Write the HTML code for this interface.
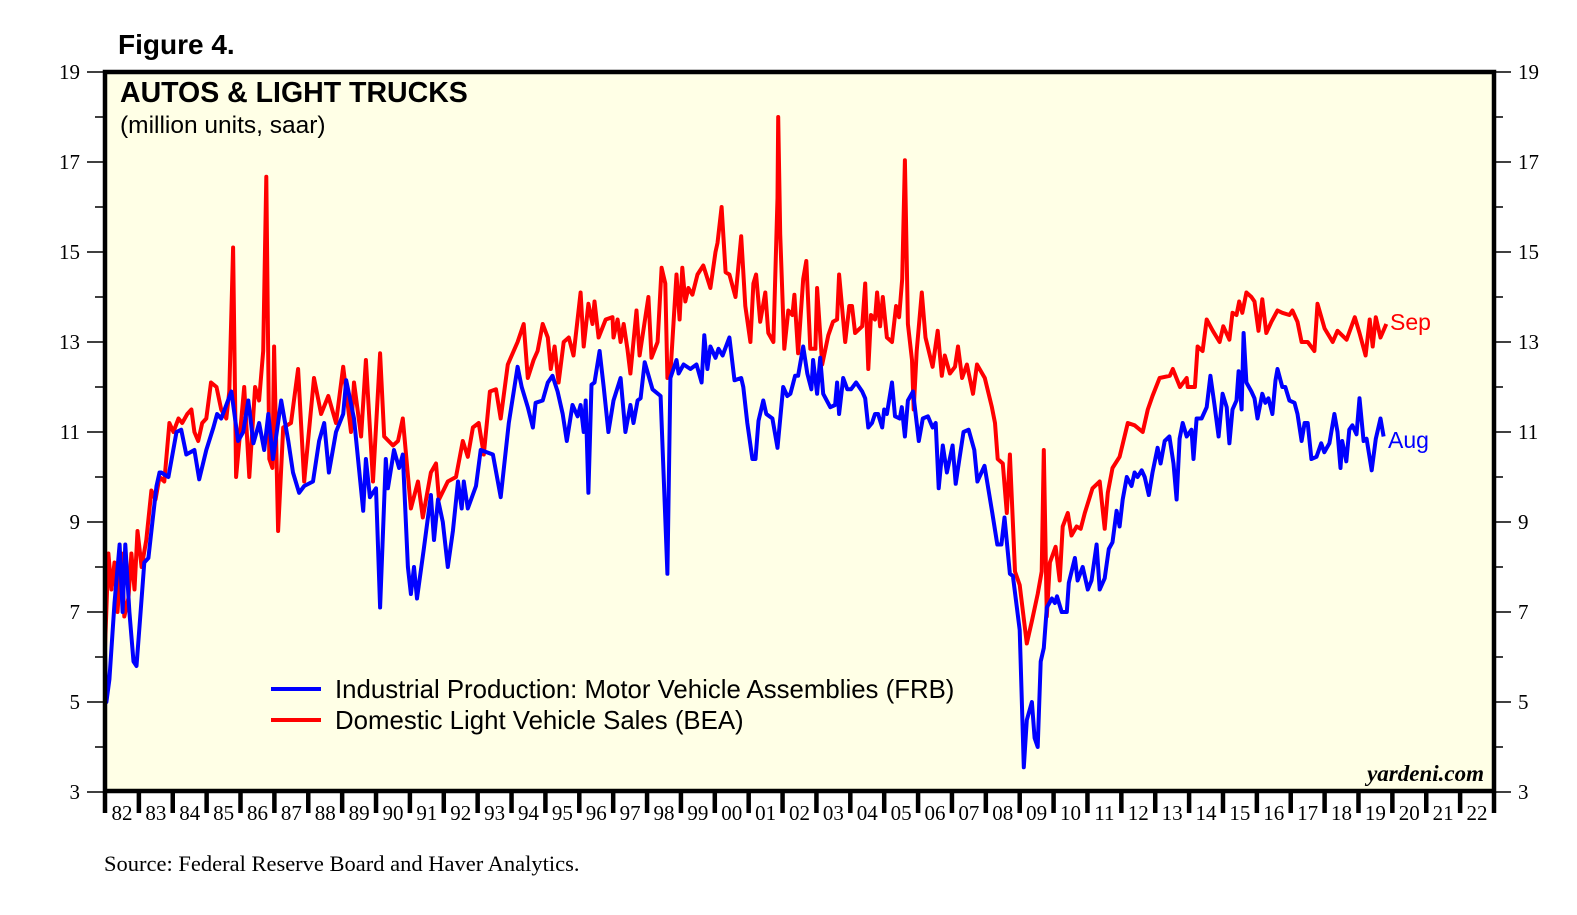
<!DOCTYPE html>
<html><head><meta charset="utf-8"><style>
html,body{margin:0;padding:0;background:#fff;}
svg{display:block;}
</style></head><body>
<svg id="chart" width="1577" height="915" viewBox="0 0 1577 915" xmlns="http://www.w3.org/2000/svg">
<text x="118" y="54" font-family="Liberation Sans, sans-serif" font-size="28" font-weight="bold">Figure 4.</text>
<rect x="105" y="72" width="1389" height="719" fill="#ffffe6"/>
<g id="grid"></g>
<g id="series"></g>
<rect x="105" y="72" width="1389" height="719" fill="none" stroke="#000" stroke-width="4.5"/>
<text x="120" y="102" font-family="Liberation Sans, sans-serif" font-size="28.5" font-weight="bold">AUTOS &amp; LIGHT TRUCKS</text>
<text x="120" y="133" font-family="Liberation Sans, sans-serif" font-size="24.5">(million units, saar)</text>
<g>
<line x1="271" y1="689" x2="321" y2="689" stroke="#0000ff" stroke-width="4"/>
<text x="335" y="698" font-family="Liberation Sans, sans-serif" font-size="25.8">Industrial Production: Motor Vehicle Assemblies (FRB)</text>
<line x1="271" y1="720" x2="321" y2="720" stroke="#ff0000" stroke-width="4"/>
<text x="335" y="729" font-family="Liberation Sans, sans-serif" font-size="25.8">Domestic Light Vehicle Sales (BEA)</text>
</g>
<text x="1390" y="330" font-family="Liberation Sans, sans-serif" font-size="23" fill="#ff0000">Sep</text>
<text x="1388" y="448" font-family="Liberation Sans, sans-serif" font-size="23" fill="#0000ff">Aug</text>
<text x="1484" y="781" text-anchor="end" font-family="Liberation Serif, serif" font-size="23" font-weight="bold" font-style="italic">yardeni.com</text>
<text x="104" y="871" font-family="Liberation Serif, serif" font-size="22.5">Source: Federal Reserve Board and Haver Analytics.</text>
</svg>
<script>
const yTicks = [3,5,7,9,11,13,15,17,19];
const yearLabels = ["82","83","84","85","86","87","88","89","90","91","92","93","94","95","96","97","98","99","00","01","02","03","04","05","06","07","08","09","10","11","12","13","14","15","16","17","18","19","20","21","22"];
const salesDates = [1982.00,1982.10,1982.19,1982.28,1982.37,1982.49,1982.57,1982.69,1982.78,1982.87,1982.96,1983.08,1983.22,1983.37,1983.49,1983.61,1983.75,1983.90,1984.02,1984.17,1984.28,1984.43,1984.55,1984.64,1984.75,1984.87,1984.99,1985.13,1985.29,1985.43,1985.58,1985.67,1985.78,1985.87,1986.11,1986.26,1986.43,1986.55,1986.67,1986.76,1986.85,1986.94,1986.99,1987.11,1987.26,1987.49,1987.70,1987.88,1988.17,1988.38,1988.59,1988.82,1989.03,1989.26,1989.35,1989.56,1989.70,1989.91,1990.12,1990.24,1990.50,1990.65,1990.79,1991.03,1991.24,1991.38,1991.62,1991.77,1991.86,1992.12,1992.36,1992.56,1992.71,1992.86,1993.03,1993.18,1993.36,1993.54,1993.68,1993.89,1994.18,1994.36,1994.48,1994.65,1994.77,1994.92,1995.07,1995.16,1995.27,1995.39,1995.54,1995.69,1995.83,1996.04,1996.13,1996.27,1996.39,1996.45,1996.57,1996.78,1996.98,1997.01,1997.13,1997.22,1997.31,1997.42,1997.51,1997.69,1997.78,1998.04,1998.13,1998.31,1998.43,1998.54,1998.60,1998.69,1998.87,1998.96,1999.04,1999.13,1999.22,1999.34,1999.49,1999.66,1999.87,2000.02,2000.08,2000.20,2000.32,2000.43,2000.61,2000.78,2000.90,2001.05,2001.14,2001.22,2001.34,2001.49,2001.58,2001.73,2001.85,2001.87,2001.93,2002.05,2002.17,2002.29,2002.35,2002.46,2002.61,2002.70,2002.82,2002.97,2003.02,2003.17,2003.35,2003.49,2003.61,2003.67,2003.85,2003.97,2004.05,2004.14,2004.35,2004.44,2004.53,2004.61,2004.73,2004.79,2004.88,2004.96,2005.08,2005.23,2005.35,2005.44,2005.53,2005.61,2005.70,2005.82,2005.87,2005.96,2006.11,2006.22,2006.43,2006.58,2006.70,2006.79,2006.94,2007.09,2007.18,2007.30,2007.44,2007.62,2007.74,2007.97,2008.18,2008.27,2008.35,2008.50,2008.62,2008.71,2008.86,2009.00,2009.21,2009.36,2009.53,2009.65,2009.71,2009.80,2009.89,2010.06,2010.18,2010.27,2010.42,2010.53,2010.68,2010.80,2010.92,2011.15,2011.36,2011.51,2011.60,2011.74,2011.95,2012.19,2012.39,2012.63,2012.78,2012.92,2013.13,2013.43,2013.52,2013.73,2013.93,2013.96,2014.17,2014.25,2014.40,2014.52,2014.70,2014.90,2015.01,2015.19,2015.28,2015.40,2015.48,2015.57,2015.69,2015.84,2015.93,2016.05,2016.16,2016.28,2016.43,2016.61,2016.75,2016.96,2017.05,2017.20,2017.32,2017.50,2017.70,2017.79,2018.00,2018.24,2018.38,2018.65,2018.89,2019.03,2019.21,2019.33,2019.42,2019.51,2019.65,2019.82];
const salesValues = [6.2,8.3,7.5,8.1,7.0,8.3,6.9,7.3,8.3,7.5,8.8,8.0,8.6,9.7,9.5,10.0,9.9,11.2,11.0,11.3,11.2,11.4,11.5,11.0,10.8,11.2,11.3,12.1,12.0,11.5,11.3,11.9,15.1,10.0,12.0,10.0,12.0,11.7,12.8,16.67,10.4,10.2,12.9,8.8,11.1,11.2,12.4,9.9,12.2,11.4,11.8,11.2,12.45,11.0,12.1,10.9,12.6,9.9,12.75,10.9,10.7,10.8,11.3,9.3,9.9,9.1,10.1,10.3,9.5,9.9,10.0,10.8,10.45,11.1,11.2,10.5,11.9,11.95,11.3,12.5,13.0,13.4,12.2,12.6,12.8,13.4,13.1,12.4,12.9,12.1,13.0,13.1,12.7,14.1,12.9,13.85,13.4,13.9,13.1,13.5,13.55,13.1,13.5,13.0,13.4,12.85,12.3,13.7,12.7,14.0,12.65,13.0,14.65,14.3,12.2,12.3,14.5,13.5,14.65,13.9,14.2,14.05,14.5,14.7,14.2,15.0,15.2,16.0,14.55,14.5,14.0,15.35,13.8,13.0,14.3,14.5,13.45,14.1,13.2,13.0,16.2,18.0,15.4,12.85,13.7,13.6,14.05,12.75,14.4,14.8,12.85,12.85,14.2,12.5,13.15,13.45,13.5,14.5,13.0,13.8,13.8,13.2,13.35,14.3,12.4,13.6,13.5,14.1,13.35,14.0,13.1,13.0,13.8,13.55,14.4,17.04,13.4,12.6,11.5,12.8,14.1,13.1,12.45,13.25,12.25,12.7,12.3,12.45,12.9,12.2,12.5,11.85,12.5,12.2,11.55,11.2,10.4,10.3,9.2,10.5,7.9,7.6,6.3,6.8,7.4,7.9,10.6,6.9,8.1,8.45,7.7,8.9,9.2,8.7,8.9,8.85,9.2,9.75,9.9,8.85,9.65,10.2,10.45,11.2,11.15,11.0,11.5,11.8,12.2,12.25,12.4,12.0,12.2,12.0,12.0,12.9,12.8,13.5,13.25,13.0,13.35,13.05,13.65,13.6,13.9,13.65,14.1,14.0,13.9,13.25,13.95,13.2,13.45,13.7,13.65,13.6,13.7,13.45,13.0,13.0,12.8,13.85,13.3,13.0,13.25,13.05,13.55,13.2,12.7,13.5,12.9,13.55,13.1,13.4];
const prodDates = [1982.00,1982.04,1982.13,1982.28,1982.43,1982.52,1982.60,1982.72,1982.84,1982.93,1983.05,1983.16,1983.28,1983.40,1983.52,1983.61,1983.66,1983.87,1984.11,1984.25,1984.40,1984.64,1984.78,1984.99,1985.20,1985.31,1985.43,1985.73,1985.93,1986.08,1986.23,1986.38,1986.55,1986.70,1986.82,1986.96,1987.20,1987.41,1987.55,1987.73,1987.88,1988.14,1988.32,1988.47,1988.61,1988.82,1989.03,1989.12,1989.35,1989.62,1989.70,1989.82,1990.00,1990.12,1990.29,1990.35,1990.53,1990.68,1990.79,1990.94,1991.03,1991.12,1991.21,1991.41,1991.62,1991.71,1991.83,1991.97,1992.12,1992.27,1992.42,1992.53,1992.59,1992.71,1992.95,1993.09,1993.45,1993.68,1993.92,1994.18,1994.30,1994.48,1994.63,1994.71,1994.92,1995.07,1995.21,1995.36,1995.51,1995.63,1995.80,1995.95,1996.04,1996.13,1996.19,1996.27,1996.36,1996.45,1996.60,1996.72,1996.86,1997.01,1997.22,1997.36,1997.51,1997.60,1997.72,1997.81,1997.93,1998.16,1998.40,1998.60,1998.69,1998.87,1998.93,1999.08,1999.28,1999.46,1999.61,1999.69,1999.78,1999.87,2000.02,2000.11,2000.23,2000.43,2000.58,2000.78,2000.84,2000.96,2001.11,2001.20,2001.29,2001.43,2001.52,2001.70,2001.85,2002.02,2002.14,2002.23,2002.37,2002.46,2002.61,2002.73,2002.85,2002.90,2003.02,2003.11,2003.20,2003.41,2003.55,2003.61,2003.67,2003.79,2003.91,2004.02,2004.17,2004.35,2004.44,2004.53,2004.64,2004.73,2004.82,2004.94,2005.00,2005.08,2005.23,2005.32,2005.46,2005.52,2005.61,2005.70,2005.85,2006.02,2006.14,2006.29,2006.43,2006.52,2006.61,2006.73,2006.85,2007.02,2007.11,2007.22,2007.34,2007.49,2007.66,2007.75,2007.96,2008.05,2008.19,2008.34,2008.46,2008.55,2008.71,2008.80,2009.00,2009.12,2009.21,2009.36,2009.44,2009.53,2009.62,2009.71,2009.80,2009.95,2010.04,2010.10,2010.24,2010.39,2010.45,2010.63,2010.71,2010.86,2011.01,2011.12,2011.27,2011.36,2011.51,2011.63,2011.74,2011.86,2011.95,2012.04,2012.16,2012.30,2012.39,2012.48,2012.60,2012.69,2012.81,2012.92,2013.07,2013.16,2013.28,2013.42,2013.54,2013.63,2013.72,2013.81,2013.93,2014.07,2014.13,2014.22,2014.37,2014.52,2014.63,2014.75,2014.87,2014.99,2015.11,2015.19,2015.28,2015.40,2015.46,2015.55,2015.61,2015.69,2015.84,2015.93,2016.02,2016.16,2016.25,2016.34,2016.46,2016.55,2016.61,2016.75,2016.84,2016.96,2017.11,2017.20,2017.32,2017.41,2017.50,2017.61,2017.76,2017.90,2017.99,2018.14,2018.29,2018.38,2018.47,2018.52,2018.64,2018.73,2018.82,2018.94,2019.03,2019.15,2019.24,2019.39,2019.51,2019.65,2019.74];
const prodValues = [6.1,5.0,5.5,7.2,8.5,7.0,8.5,7.0,5.9,5.8,7.0,8.1,8.2,9.0,9.8,10.1,10.1,10.0,11.0,11.05,10.5,10.6,9.95,10.6,11.1,11.4,11.3,11.9,10.8,11.0,11.7,10.75,11.2,10.6,11.4,10.4,11.7,10.8,10.1,9.65,9.8,9.9,10.8,11.2,10.1,11.0,11.4,12.15,11.3,9.25,10.4,9.55,9.75,7.1,10.4,9.75,10.6,10.2,10.5,8.0,7.4,8.0,7.3,8.4,9.6,8.6,9.5,9.0,8.0,8.8,9.9,9.3,9.9,9.3,9.8,10.6,10.5,9.55,11.2,12.45,12.0,11.55,11.1,11.65,11.7,12.1,12.25,11.9,11.4,10.8,11.6,11.35,11.6,11.0,11.7,9.65,12.05,12.1,12.8,12.0,11.0,11.7,12.2,11.0,11.6,11.2,11.7,11.75,12.55,11.95,11.8,7.85,12.2,12.6,12.3,12.5,12.4,12.5,12.1,13.15,12.4,12.9,12.65,12.85,12.7,13.1,12.15,12.2,12.0,11.2,10.4,10.4,11.25,11.7,11.4,11.3,10.65,12.0,11.8,11.85,12.25,12.25,12.9,12.3,11.95,12.6,11.85,12.65,11.85,11.55,11.6,12.1,11.4,12.2,11.95,11.95,12.1,11.9,11.75,11.1,11.2,11.4,11.4,11.1,11.5,11.4,12.1,11.35,11.3,11.55,10.9,11.7,11.9,10.8,11.3,11.35,11.1,11.2,9.75,10.7,10.1,10.7,9.85,10.4,11.0,11.05,10.6,9.9,10.25,9.85,9.2,8.5,8.5,9.1,7.85,7.8,6.6,3.55,4.6,5.0,4.2,4.0,5.9,6.2,7.1,7.3,7.2,7.35,7.0,7.0,7.65,8.2,7.7,8.0,7.5,7.7,8.5,7.5,7.75,8.4,8.55,9.25,8.9,9.5,10.0,9.8,10.1,10.0,10.15,10.0,9.6,10.1,10.65,10.3,10.8,10.9,10.3,9.5,10.85,11.2,10.9,11.05,10.4,11.3,11.3,11.55,12.25,11.6,10.9,11.85,11.55,10.75,11.5,11.7,12.35,11.5,13.2,12.1,11.9,11.75,11.3,11.85,11.65,11.75,11.4,12.15,12.4,12.0,12.0,11.7,11.65,11.4,10.8,11.2,11.2,10.4,10.45,10.75,10.55,10.75,11.4,11.0,10.2,10.8,10.35,11.05,11.15,10.95,11.75,10.8,10.85,10.15,10.85,11.3,10.9];

const NS = "http://www.w3.org/2000/svg";
const X0 = 105, X1 = 1494, Y0 = 792, Y1 = 72;
const T0 = 1982, T1 = 2023, V0 = 3, V1 = 19;
function xScale(t){ return X0 + (t - T0) / (T1 - T0) * (X1 - X0); }
function yScale(v){ return Y0 - (v - V0) / (V1 - V0) * (Y0 - Y1); }
function mk(tag, attrs){ const e = document.createElementNS(NS, tag); for (const k in attrs) e.setAttribute(k, attrs[k]); return e; }
const grid = document.getElementById('grid');
const svg = document.getElementById('chart');

for (let v = V0; v <= V1; v++) {
  const y = yScale(v);
  const major = (v % 2 === 1);
  const l = mk('line', {x1: major ? 87 : 95, x2: X0, y1: y, y2: y, stroke: '#000', 'stroke-width': 1.5});
  
  
  grid.appendChild(l);
  const r = mk('line', {x1: X1, x2: major ? 1511 : 1503, y1: y, y2: y, stroke: '#000', 'stroke-width': 1.5});
  
  
  grid.appendChild(r);
}
yTicks.forEach(v => {
  const y = yScale(v);
  const a = mk('text', {x: 80, y: y + 7, 'text-anchor': 'end', 'font-family': 'Liberation Serif, serif', 'font-size': 21});
  
  
  a.textContent = v; svg.appendChild(a);
  const b = mk('text', {x: 1518, y: y + 7, 'font-family': 'Liberation Serif, serif', 'font-size': 21});
  
  
  b.textContent = v; svg.appendChild(b);
});
for (let i = 0; i <= yearLabels.length; i++) {
  const x = xScale(T0 + i);
  const t = mk('line', {x1: x, x2: x, y1: Y0, y2: 813, stroke: '#000', 'stroke-width': 4.5});
  
  
  svg.appendChild(t);
}
yearLabels.forEach((lab, i) => {
  const x = xScale(T0 + i + 0.5);
  const t = mk('text', {x: x, y: 820, 'text-anchor': 'middle', 'font-family': 'Liberation Serif, serif', 'font-size': 21});
  
  
  t.textContent = lab; svg.appendChild(t);
});
const series = document.getElementById('series');
function drawLine(dates, vals, color, name){
  const pts = dates.map((d, i) => xScale(d).toFixed(1) + ',' + yScale(vals[i]).toFixed(1)).join(' ');
  const p = mk('polyline', {points: pts, fill: 'none', stroke: color, 'stroke-width': 4, 'stroke-linejoin': 'round'});
  
  
  series.appendChild(p);
}
drawLine(salesDates, salesValues, '#ff0000', 'sales-line');
drawLine(prodDates, prodValues, '#0000ff', 'production-line');
</script>
</body></html>
